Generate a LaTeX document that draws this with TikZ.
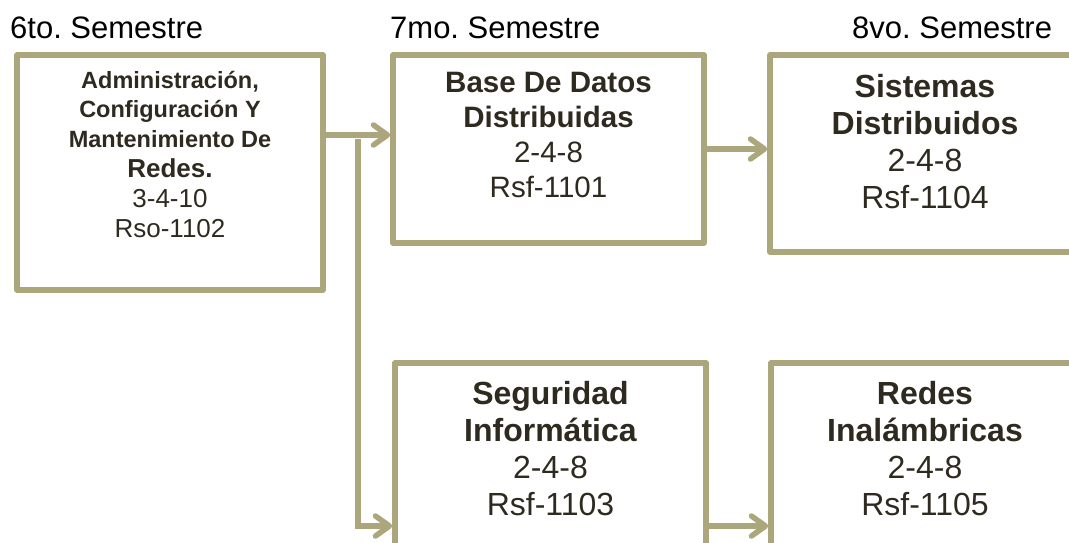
\documentclass[tikz,border=0pt]{standalone}
\usepackage{fontspec}
\setmainfont{Liberation Sans}
\usetikzlibrary{arrows.meta}
\definecolor{boxline}{RGB}{172,166,124}
\definecolor{inkdark}{RGB}{46,42,32}
\frenchspacing
\begin{document}
\begin{tikzpicture}[x=1pt,y=-1pt,
  box/.style={draw=boxline,line width=5.5pt,inner sep=0pt,line join=round},
  lbl/.style={align=center,text=inkdark,inner sep=0pt,anchor=base},
  sem/.style={font=\fontsize{31}{36}\selectfont,anchor=base west,inner sep=0pt},
  arr/.style={draw=boxline,line width=5.5pt,-{Straight Barb[length=14pt,width=20pt,round]}}]
\clip (0,0) rectangle (1069,542);
% semester headings
\node[sem] (s6) at (10,38) {6to. Semestre};
\node[sem] (s7) at (390,38) {7mo. Semestre};
\node[sem] (s8) at (852,38) {8vo. Semestre};
% course boxes
\node[box,minimum width=306pt,minimum height=235pt] (b1) at (170,172.5) {};
\node[box,minimum width=311pt,minimum height=188pt] (b2) at (548.5,149) {};
\node[box,minimum width=311pt,minimum height=197pt] (b3) at (925.5,153.5) {};
\node[box,minimum width=311pt,minimum height=188pt] (b4) at (550.5,457) {};
\node[box,minimum width=311pt,minimum height=197pt] (b5) at (926.5,461.5) {};
% box texts (base = last line)
\node[lbl,font=\fontsize{26}{29.8}\selectfont] (t1) at (170,237)
  {{\fontsize{23.5}{29.8}\selectfont\bfseries Administración,}\\
   {\fontsize{23.5}{29.8}\selectfont\bfseries Configuración Y}\\
   {\fontsize{23.5}{29.8}\selectfont\bfseries Mantenimiento De}\\
   \textbf{Redes.}\\3-4-10\\Rso-1102};
\node[lbl,font=\fontsize{29.5}{34.7}\selectfont] (t2) at (548.5,197)
  {\textbf{Base De Datos}\\\textbf{Distribuidas}\\2-4-8\\Rsf-1101};
\node[lbl,font=\fontsize{32}{37}\selectfont] (t3) at (925,208)
  {\textbf{Sistemas}\\\textbf{Distribuidos}\\2-4-8\\Rsf-1104};
\node[lbl,font=\fontsize{32}{37}\selectfont] (t4) at (550.5,515)
  {\textbf{Seguridad}\\\textbf{Informática}\\2-4-8\\Rsf-1103};
\node[lbl,font=\fontsize{32}{37}\selectfont] (t5) at (925,515)
  {\textbf{Redes}\\\textbf{Inalámbricas}\\2-4-8\\Rsf-1105};
% connectors
\coordinate (split) at (358,135);
\coordinate (low) at (358,526);
\draw[arr] (b1.east |- split) -- (b2.west |- split);
\draw[arr] ([yshift=-4pt]split) |- (b4.west |- low);
\draw[arr] (b2.east) -- (b2.east -| b3.west);
\draw[arr] (b4.east |- low) -- (b5.west |- low);
\end{tikzpicture}
\end{document}
